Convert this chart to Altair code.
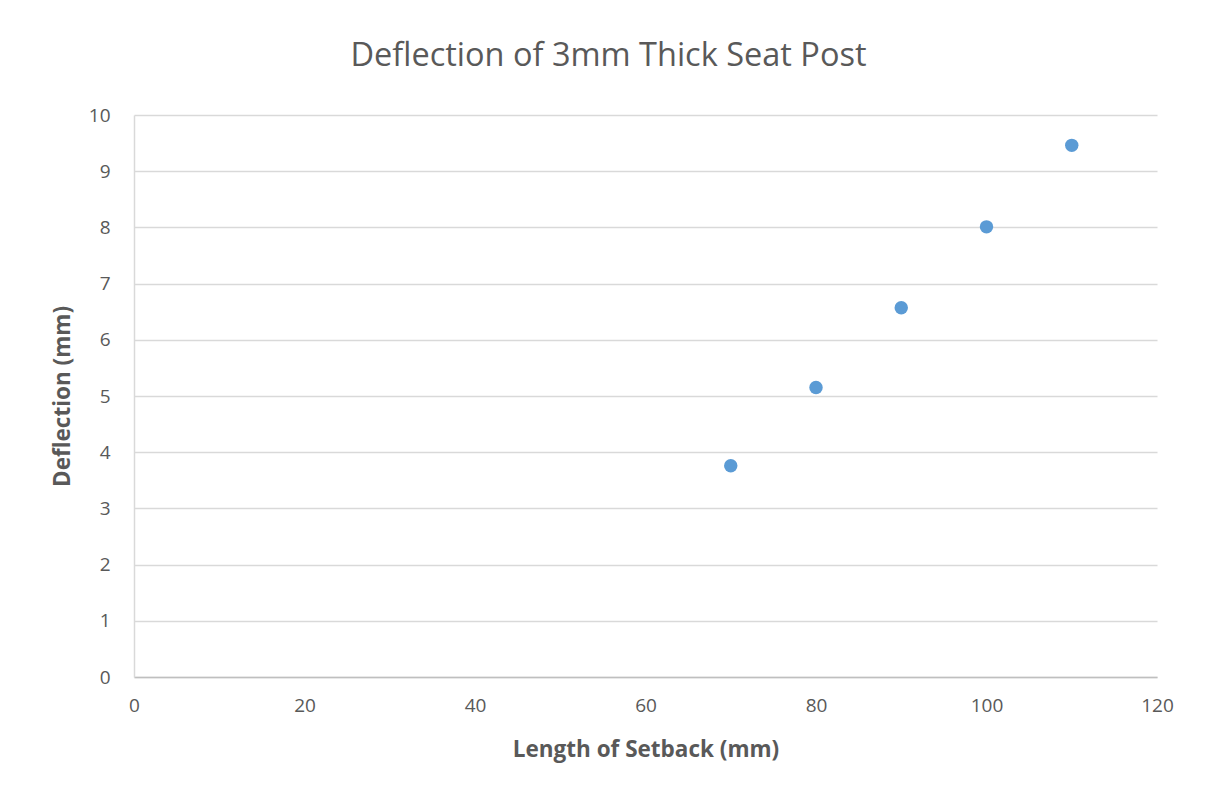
import altair as alt
import pandas as pd

setback_mm = [70, 80, 90, 100, 110]
deflection_mm = [3.76, 5.15, 6.57, 8.01, 9.46]

df = pd.DataFrame({"Setback": setback_mm, "Deflection": deflection_mm})

FONT = "Open Sans"
GREY = "#595959"

points = alt.Chart(df).mark_circle(size=180, color="#5b9bd5", opacity=1).encode(
    x=alt.X("Setback:Q",
            scale=alt.Scale(domain=[0, 120], nice=False, zero=True),
            axis=alt.Axis(title="Length of Setback (mm)", values=[0, 20, 40, 60, 80, 100, 120],
                          grid=False, ticks=False, domainColor="#bfbfbf", domainWidth=1.5,
                          labelFlush=False, labelPadding=19, titlePadding=23)),
    y=alt.Y("Deflection:Q",
            scale=alt.Scale(domain=[0, 10], nice=False),
            axis=alt.Axis(title="Deflection (mm)", values=list(range(0, 11)),
                          grid=True, gridColor="#d9d9d9", gridWidth=1.5,
                          ticks=False, domainColor="#d9d9d9", domainWidth=1.5,
                          labelFlush=False, labelPadding=24, titlePadding=14)),
)

chart = points.properties(
    width=1023,
    height=562,
    title=alt.TitleParams("Deflection of 3mm Thick Seat Post", fontSize=32.5, font=FONT,
                          fontWeight="normal", color=GREY, offset=34, anchor="middle", dx=-37),
    padding={"left": 126, "top": 107, "right": 30, "bottom": 90},
    autosize=alt.AutoSizeParams(type="none"),
).configure_axis(
    labelFont=FONT, labelFontSize=19, labelColor=GREY,
    titleFont=FONT, titleFontSize=22.5, titleFontWeight="bold", titleColor=GREY,
).configure_view(stroke=None)

chart.save("out.html", embed_options={"renderer": "svg", "actions": False})
